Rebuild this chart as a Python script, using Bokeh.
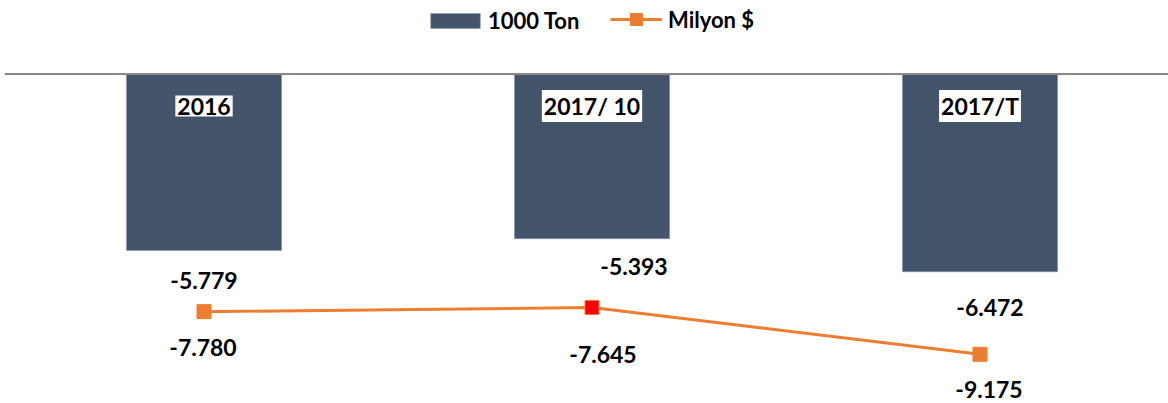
from bokeh.plotting import figure
from bokeh.models import ColumnDataSource, Span, Legend, LegendItem, Range1d
from bokeh.core.properties import value
from bokeh.embed import file_html
from bokeh.resources import INLINE

# ---- data ----
categories = ["2016", "2017/ 10", "2017/T"]
ton_1000 = [-5.779, -5.393, -6.472]
milyon_usd = [-7.780, -7.645, -9.175]

# ---- layout tweaks (pixels) ----
bar_lbl_dx = [0, 42, 10]
bar_lbl_dy = [30, 28, 36]
line_lbl_dx = [-1, 11, 9]
line_lbl_dy = [36, 47, 35]
marker_fill = ["#ED7D31", "#FF0000", "#ED7D31"]

BAR = "#44546A"
ORANGE = "#ED7D31"
FONT = value("Lato")

idx = list(range(len(categories)))
src = ColumnDataSource(dict(
    x=idx, cat=categories, ton=ton_1000, usd=milyon_usd,
    ton_txt=[f"{v:.3f}" for v in ton_1000],
    usd_txt=[f"{v:.3f}" for v in milyon_usd],
    bdx=bar_lbl_dx, bdy=bar_lbl_dy, ldx=line_lbl_dx, ldy=line_lbl_dy,
    mfill=marker_fill,
))

p = figure(width=1168, height=403, output_backend="svg", toolbar_location=None,
           x_range=Range1d(-0.5142, 2.4858), y_range=Range1d(-10.786, 2.406),
           min_border=0, min_border_left=4, outline_line_color=None)
p.xaxis.visible = False
p.yaxis.visible = False
p.xgrid.visible = False
p.ygrid.visible = False
p.background_fill_color = "white"

bars = p.vbar(x="x", top=0, bottom="ton", width=0.4, source=src,
              fill_color=BAR, line_color="#8A99AE", line_width=0.5)

p.add_layout(Span(location=0, dimension="width", line_color="#898989", line_width=2))

ln = p.line(x="x", y="usd", source=src, line_color=ORANGE, line_width=3)
mk = p.scatter(x="x", y="usd", source=src, marker="square", size=14,
               fill_color="mfill", line_color=ORANGE, line_width=1)

# category labels in white boxes
p.text(x="x", y=0, text="cat", source=src, y_offset=32,
       text_align="center", text_baseline="middle",
       text_font=FONT, text_font_style="bold", text_font_size="23px",
       text_color="black", background_fill_color="white", padding=2)

# value labels
p.text(x="x", y="ton", text="ton_txt", source=src, x_offset="bdx", y_offset="bdy",
       text_align="center", text_baseline="middle",
       text_font=FONT, text_font_style="bold", text_font_size="23px", text_color="black")
p.text(x="x", y="usd", text="usd_txt", source=src, x_offset="ldx", y_offset="ldy",
       text_align="center", text_baseline="middle",
       text_font=FONT, text_font_style="bold", text_font_size="23px", text_color="black")

def mk_legend(items, loc, gw, gh, standoff):
    lg = Legend(items=items, location=loc, orientation="horizontal",
                glyph_width=gw, glyph_height=gh, label_standoff=standoff,
                padding=0, margin=0, spacing=0,
                border_line_color=None, background_fill_alpha=0,
                label_text_font="Lato", label_text_font_style="bold",
                label_text_font_size="22px", label_text_color="black")
    p.add_layout(lg)

mk_legend([LegendItem(label="1000 Ton", renderers=[bars])], (420, 369), 62, 19, 2)
mk_legend([LegendItem(label="Milyon $", renderers=[ln, mk])], (606, 369), 52, 30, 6)

open("out.html", "w").write(file_html(p, INLINE))
